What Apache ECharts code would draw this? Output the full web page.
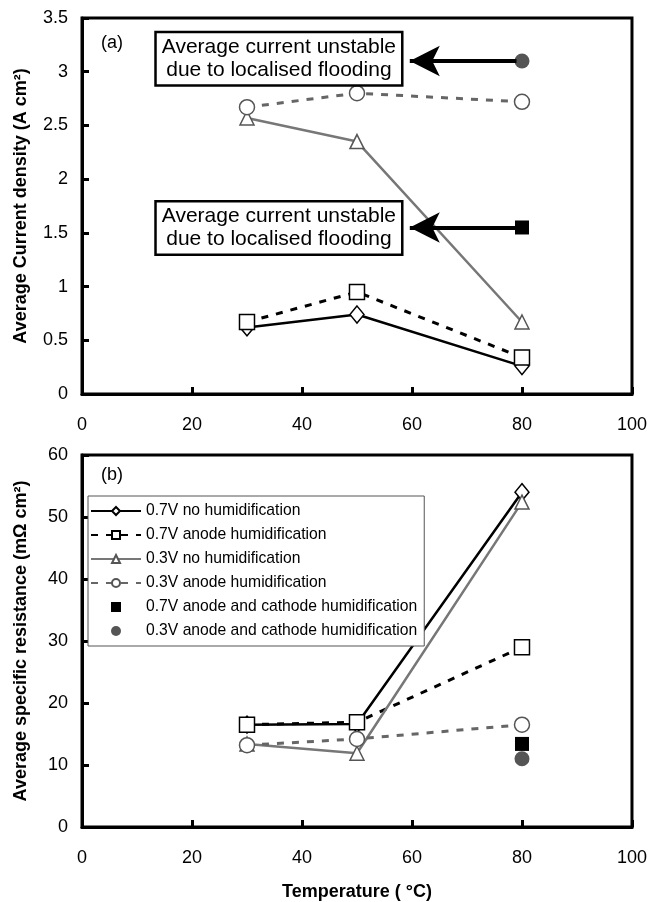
<!DOCTYPE html>
<html>
<head>
<meta charset="utf-8">
<script src="https://cdn.jsdelivr.net/npm/echarts@6/dist/echarts.min.js"></script>
<style>
  html, body { margin: 0; padding: 0; background: #fff; }
  #main { width: 650px; height: 902px; }
</style>
</head>
<body>
<div id="main"></div>
<script>
// temperatures (°C)
const temps = [30, 50, 80];

// (a) average current density (A cm^-2)
const curNoHum07 = [0.62, 0.74, 0.26];
const curAnode07 = [0.67, 0.95, 0.34];
const curNoHum03 = [2.57, 2.35, 0.67];
const curAnode03 = [2.67, 2.80, 2.72];
const curBoth07 = [[80, 1.55]];
const curBoth03 = [[80, 3.10]];

// (b) average specific resistance (mOhm cm^2)
const resNoHum07 = [16.5, 16.6, 54.0];
const resAnode07 = [16.5, 16.9, 29.0];
const resNoHum03 = [13.4, 11.9, 52.4];
const resAnode03 = [13.2, 14.2, 16.5];
const resBoth07 = [[80, 13.4]];
const resBoth03 = [[80, 11.0]];

const names = [
  "0.7V no humidification",
  "0.7V anode humidification",
  "0.3V no humidification",
  "0.3V anode humidification",
  "0.7V anode and cathode humidification",
  "0.3V anode and cathode humidification",
];

const note = "Average current unstable\ndue to localised flooding";
const font = "'Liberation Sans', Arial, sans-serif";
const gray = "#777";

function pairs(vals) {
  return temps.map((t, i) => [t, vals[i]]);
}

// one styled set of 6 series for a panel
function panelSeries(idx, d) {
  return [
    {
      name: names[0], type: "line", xAxisIndex: idx, yAxisIndex: idx,
      data: pairs(d[0]), symbol: "diamond", symbolSize: [14, 17],
      lineStyle: { color: "#000", width: 2.5 },
      itemStyle: { color: "#fff", borderColor: "#000", borderWidth: 1.5 },
    },
    {
      name: names[1], type: "line", xAxisIndex: idx, yAxisIndex: idx,
      data: pairs(d[1]), symbol: "rect", symbolSize: 15,
      lineStyle: { color: "#000", width: 3, type: [7, 8] },
      itemStyle: { color: "#fff", borderColor: "#000", borderWidth: 1.5 },
    },
    {
      name: names[2], type: "line", xAxisIndex: idx, yAxisIndex: idx,
      data: pairs(d[2]), symbol: "triangle", symbolSize: 14,
      lineStyle: { color: gray, width: 2.5 },
      itemStyle: { color: "#fff", borderColor: "#555", borderWidth: 1.5 },
    },
    {
      name: names[3], type: "line", xAxisIndex: idx, yAxisIndex: idx,
      data: pairs(d[3]), symbol: "circle", symbolSize: 15,
      lineStyle: { color: "#666", width: 3, type: [7, 8] },
      itemStyle: { color: "#fff", borderColor: "#555", borderWidth: 1.5 },
    },
    {
      name: names[4], type: "scatter", xAxisIndex: idx, yAxisIndex: idx,
      data: d[4], symbol: "rect", symbolSize: 14,
      itemStyle: { color: "#000", opacity: 1 },
    },
    {
      name: names[5], type: "scatter", xAxisIndex: idx, yAxisIndex: idx,
      data: d[5], symbol: "circle", symbolSize: 15,
      itemStyle: { color: "#555", opacity: 1 },
    },
  ];
}

// arrow + boxed note pointing at a flooding point
function flooding(y, boxY) {
  return {
    markLine: {
      silent: true,
      symbol: ["none", "arrow"],
      label: { show: false },
      lineStyle: { color: "#000", width: 4, type: "solid" },
      data: [[
        { coord: [79, y], symbol: "none" },
        { coord: [59.6, y], symbol: "arrow", symbolSize: [23, 30] },
      ]],
    },
    markPoint: {
      silent: true,
      symbolSize: 0,
      data: [{ coord: [35.8, boxY] }],
      label: {
        show: true, position: "inside", formatter: note,
        fontFamily: font, fontSize: 21, lineHeight: 23, color: "#000",
        backgroundColor: "#fff", borderColor: "#000", borderWidth: 2.5,
        padding: [3, 5, 2, 5],
      },
    },
  };
}

const panelA = panelSeries(0, [curNoHum07, curAnode07, curNoHum03, curAnode03, curBoth07, curBoth03]);
Object.assign(panelA[4], flooding(curBoth07[0][1], 1.545));
Object.assign(panelA[5], flooding(curBoth03[0][1], 3.12));
const panelB = panelSeries(1, [resNoHum07, resAnode07, resNoHum03, resAnode03, resBoth07, resBoth03]);

const axisCommon = {
  axisLine: { lineStyle: { color: "#000", width: 3 } },
  axisTick: { inside: true, length: 7, lineStyle: { color: "#000", width: 3 } },
  splitLine: { show: false },
  axisLabel: { fontFamily: font, fontSize: 18, color: "#000" },
};

const nameStyle = { fontFamily: font, fontSize: 18, fontWeight: "bold", color: "#000" };

// legend entries; the filled square gets a square icon instead of a bar
const legendItems = names.map((n, i) =>
  i === 4 ? { name: n, icon: "path://M0,0L10,0L10,10L0,10Z" } : { name: n });

let option = {
  animation: false,
  textStyle: { fontFamily: font },
  title: [
    { text: "(a)", left: 96, top: 29, textStyle: { fontFamily: font, fontSize: 18, fontWeight: "normal", color: "#000" } },
    { text: "(b)", left: 96, top: 461, textStyle: { fontFamily: font, fontSize: 18, fontWeight: "normal", color: "#000" } },
  ],
  grid: [
    { left: 82, top: 18, width: 551, height: 376, show: true, borderColor: "#000", borderWidth: 3 },
    { left: 82, top: 455, width: 551, height: 372, show: true, borderColor: "#000", borderWidth: 3 },
  ],
  legend: {
    data: legendItems,
    orient: "vertical",
    left: 88,
    top: 496,
    backgroundColor: "#fff",
    borderColor: "#555",
    borderWidth: 1,
    borderRadius: 0,
    padding: [7, 7, 7, 2],
    itemWidth: 50,
    itemHeight: 10,
    itemGap: 8,
    textStyle: { fontFamily: font, fontSize: 15.7, lineHeight: 14, color: "#000" },
  },
  xAxis: [
    Object.assign({ type: "value", gridIndex: 0, min: 0, max: 100, interval: 20 }, axisCommon,
      { axisLabel: Object.assign({}, axisCommon.axisLabel, { margin: 22 }) }),
    Object.assign({ type: "value", gridIndex: 1, min: 0, max: 100, interval: 20 }, axisCommon,
      { axisLabel: Object.assign({}, axisCommon.axisLabel, { margin: 22 }),
        name: "Temperature ( °C)", nameLocation: "middle", nameGap: 56, nameTextStyle: nameStyle }),
  ],
  yAxis: [
    Object.assign({ type: "value", gridIndex: 0, min: 0, max: 3.5, interval: 0.5 }, axisCommon,
      { axisLabel: Object.assign({}, axisCommon.axisLabel, { margin: 14 }),
        name: "Average Current density (A cm²)", nameLocation: "middle", nameGap: 52, nameTextStyle: nameStyle }),
    Object.assign({ type: "value", gridIndex: 1, min: 0, max: 60, interval: 10 }, axisCommon,
      { axisLabel: Object.assign({}, axisCommon.axisLabel, { margin: 14 }),
        name: "Average specific resistance (mΩ cm²)", nameLocation: "middle", nameGap: 52, nameTextStyle: nameStyle }),
  ],
  series: panelA.concat(panelB),
};

let myChart = echarts.init(document.getElementById("main"));
option && myChart.setOption(option);
</script>
</body>
</html>
